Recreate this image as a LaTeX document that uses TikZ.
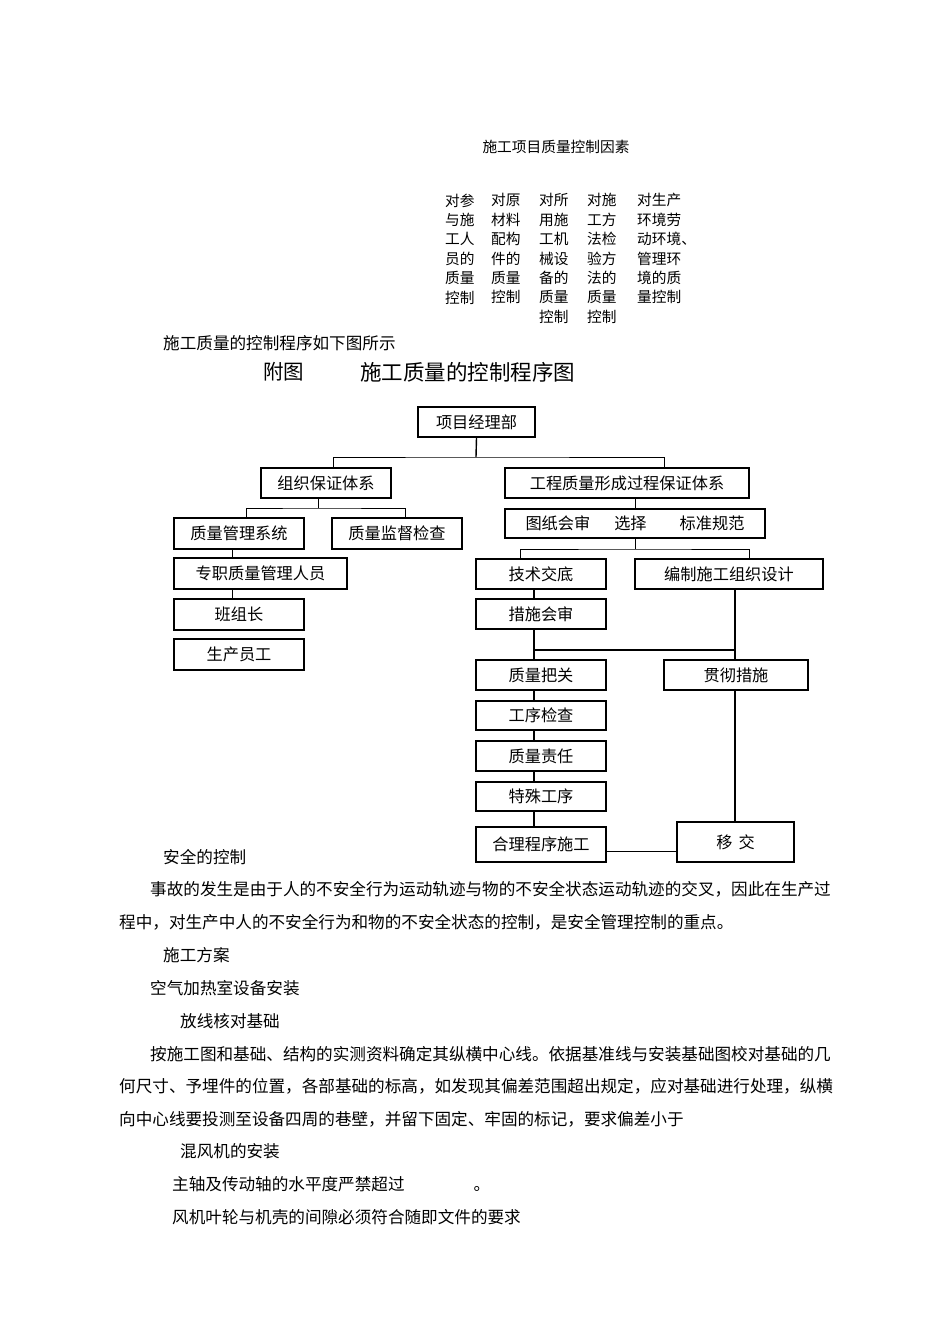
\documentclass[tikz,border=0pt]{standalone}
\usepackage{fontspec}
\setmainfont{Noto Sans CJK SC}
\usetikzlibrary{positioning}
\newcommand{\zihao}[1]{\fontsize{#1}{#1}\selectfont}

\begin{document}
\begin{tikzpicture}[x=1pt,y=-1pt,
  kuang/.style={draw,line width=1.2pt,inner sep=0pt,font=\zihao{16.2},minimum width=130pt,minimum height=30pt},
  wz/.style={inner sep=0pt,anchor=west,font=\zihao{16.6}},
  yinsu/.style={inner sep=0pt,anchor=north west,align=left,font=\fontsize{14.7}{19.4}\selectfont},
  xian/.style={line width=0.8pt},
  zhong/.style={line width=1.4pt},
  cu/.style={line width=1.8pt}]
\useasboundingbox[fill=white] (0,0) rectangle (950,1344);

\node[inner sep=0pt,font=\zihao{14.7}] (biaoti) at (556,147) {施工项目质量控制因素};
\node[yinsu] (ys1) at (445,193.4) {对参\\与施\\工人\\员的\\质量\\控制};
\node[yinsu] (ys2) at (491,193.4) {对原\\材料\\配构\\件的\\质量\\控制};
\node[yinsu] (ys3) at (539,193.4) {对所\\用施\\工机\\械设\\备的\\质量\\控制};
\node[yinsu] (ys4) at (587,193.4) {对施\\工方\\法检\\验方\\法的\\质量\\控制};
\node[yinsu] (ys5) at (637,193.4) {对生产\\环境劳\\动环境、\\管理环\\境的质\\量控制};

\node[wz] (yinyu) at (163,343) {施工质量的控制程序如下图所示};
\node[inner sep=0pt,anchor=west,font=\zihao{20.5}] (futu) at (263,372) {附图};
\node[inner sep=0pt,anchor=west,font=\zihao{21.5}] (tuming) at (360,372) {施工质量的控制程序图};

\node[kuang,minimum width=117pt] (xmjl) at (476.5,422) {项目经理部};
\node[kuang] (zzbz) at (326,483) {组织保证体系};
\node[kuang,minimum width=244pt] (gcbz) at (627,483) {工程质量形成过程保证体系\hspace{20pt}};
\node[kuang,minimum width=260pt,minimum height=29pt] (tzhs) at (635,523.5) {图纸会审\hspace{24pt}选择\hspace{33pt}标准规范\hspace{14pt}};
\node[kuang,minimum height=31pt] (zlgl) at (239,533.5) {质量管理系统};
\node[kuang,minimum height=31pt] (zljd) at (397,533.5) {质量监督检查};
\node[kuang,minimum width=173pt,minimum height=31pt] (zzry) at (260.5,573.5) {专职质量管理人员\hspace{14pt}};
\node[kuang,minimum height=31pt] (bzz) at (239,614.5) {班组长\hspace{20pt}};
\node[kuang,minimum height=31pt] (scyg) at (239,654.5) {生产员工\hspace{4pt}};
\node[kuang] (jsjd) at (541,574) {技术交底};
\node[kuang,minimum width=188pt] (bzsj) at (729,574) {编制施工组织设计};
\node[kuang] (cshs) at (541,614) {措施会审};
\node[kuang] (zlbg) at (541,675) {质量把关};
\node[kuang,minimum width=144pt] (gccs) at (736,675) {贯彻措施\hspace{20pt}};
\node[kuang,minimum height=29pt] (gxjc) at (541,715.5) {工序检查};
\node[kuang] (zlzr) at (541,756) {质量责任};
\node[kuang,minimum height=29pt] (tsgx) at (541,796.5) {特殊工序};
\node[kuang,minimum height=35pt] (hlsg) at (541,844.5) {合理程序施工};
\node[kuang,minimum width=117pt,minimum height=40pt] (yijiao) at (735.5,842) {移\hspace{6pt}交};

\coordinate (fz1) at (476,457);
\draw[zhong] (xmjl.south) -- (fz1);
\draw[xian] ([xshift=7pt]zzbz.north) |- (fz1) -| ([xshift=37pt]gcbz.north);
\coordinate (fz2) at (318,508);
\draw[xian] ([xshift=-8pt]zzbz.south) -- (fz2);
\draw[xian] ([xshift=7pt]zlgl.north) |- (fz2) -| ([xshift=8pt]zljd.north);
\draw[xian] ([xshift=-7pt]zlgl.south) -- ([xshift=-7pt]zlgl.south |- zzry.north);
\draw[xian] ([xshift=-7pt]bzz.north) -- ([xshift=-7pt]bzz.north |- zzry.south);

\draw[xian] (tzhs.north) -- (tzhs.north |- gcbz.south);
\coordinate (fz3) at (635,549);
\draw[xian] (tzhs.south) -- (fz3);
\draw[xian] ([xshift=-21pt]jsjd.north) |- (fz3) -| ([xshift=20pt]bzsj.north);
\draw[zhong] ([xshift=-7pt]jsjd.south) -- ([xshift=-7pt]cshs.north);
\draw[cu] ([xshift=-7pt]cshs.south) -- ([xshift=-7pt]zlbg.north);
\coordinate (fz4) at (534,650);
\draw[cu] (fz4) -- ([xshift=6pt]bzsj.south |- fz4);
\draw[cu] ([xshift=6pt]bzsj.south) -- ([xshift=6pt]bzsj.south |- gccs.north);
\foreach \a/\b in {zlbg/gxjc,gxjc/zlzr,zlzr/tsgx,tsgx/hlsg}
  \draw[zhong] ([xshift=-7pt]\a.south) -- ([xshift=-7pt]\b.north);
\draw[cu] ([xshift=-1pt]gccs.south) -- ([xshift=-1pt]gccs.south |- yijiao.north);
\draw[xian] ([yshift=-6.5pt]hlsg.east) -- ([yshift=-6.5pt]hlsg.east -| yijiao.west);

\node[wz] (aq) at (163,857) {安全的控制};
\node[wz] (aq1) at (150,889) {事故的发生是由于人的不安全行为运动轨迹与物的不安全状态运动轨迹的交叉，因此在生产过};
\node[wz] (aq2) at (119,922) {程中，对生产中人的不安全行为和物的不安全状态的控制，是安全管理控制的重点。};
\node[wz] (fa) at (163,955) {施工方案};
\node[wz] (kq) at (150,988) {空气加热室设备安装};
\node[wz] (fx) at (180,1021) {放线核对基础};
\node[wz] (fx1) at (150,1054) {按施工图和基础、结构的实测资料确定其纵横中心线。依据基准线与安装基础图校对基础的几};
\node[wz] (fx2) at (119,1086) {何尺寸、予埋件的位置，各部基础的标高，如发现其偏差范围超出规定，应对基础进行处理，纵横};
\node[wz] (fx3) at (119,1119) {向中心线要投测至设备四周的巷壁，并留下固定、牢固的标记，要求偏差小于};
\node[wz] (hf) at (180,1151) {混风机的安装};
\node[wz] (hf1) at (172,1184) {主轴及传动轴的水平度严禁超过\hspace{69pt}。};
\node[wz] (hf2) at (172,1217) {风机叶轮与机壳的间隙必须符合随即文件的要求};
\end{tikzpicture}
\end{document}
